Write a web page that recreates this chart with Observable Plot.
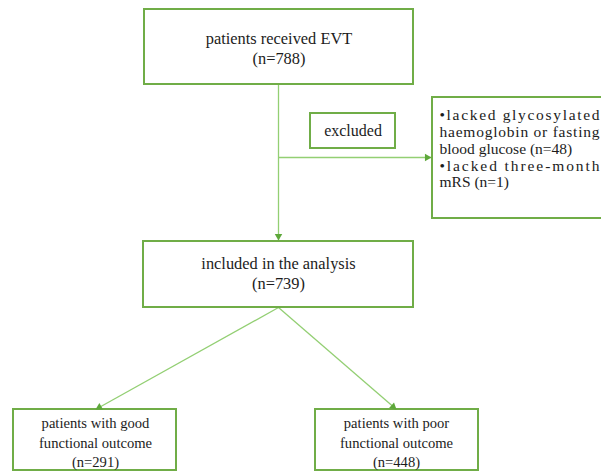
<!DOCTYPE html>
<html>
<head>
<meta charset="utf-8">
<script src="https://cdn.jsdelivr.net/npm/d3@7"></script>
<script src="https://cdn.jsdelivr.net/npm/@observablehq/plot@0.6"></script>
<style>
  html, body { margin: 0; padding: 0; background: #ffffff; }
  #chart { width: 601px; height: 471px; overflow: hidden; }
  #chart svg, #chart svg text { font-family: "Liberation Serif", "Times New Roman", serif !important; }
</style>
</head>
<body>
<div id="chart"></div>
<script>
// ---- data ----
const stageLabels = ["patients received EVT", "included in the analysis"];
const stageCounts = [788, 739];
const excludedLabel = "excluded";
const exclusionReasonLines = [
  ["lacked glycosylated", "haemoglobin or fasting", "blood glucose"],
  ["lacked three-month", "mRS"]
];
const exclusionCounts = [48, 1];
const outcomeLabels = ["good", "poor"];
const outcomeCounts = [291, 448];

// ---- layout (pixel space of the figure) ----
const stageBoxes = [
  {x1: 144, x2: 413, y1: 9, y2: 84, cy: 47},
  {x1: 143, x2: 413, y1: 241, y2: 307, cy: 272.5}
];
const outcomeBoxes = [
  {x1: 13, x2: 176, y1: 409, y2: 470, cx: 95, cy: 441},
  {x1: 315, x2: 478, y1: 409, y2: 470, cx: 396, cy: 441}
];
const excludedBox = {x1: 310, x2: 395, y1: 113, y2: 148};
const reasonsBox = {x1: 432, x2: 640, y1: 97, y2: 218};
const reasonLineTop = 115, reasonLineStep = 16.75, reasonTextX = 439, reasonJustifyWidth = 160;

const green = "#70ad47";
const lineGreen = "#93cf73";
const arrowGreen = "#5ea83b";
const ink = "#1c1c1c";
const font = "'Liberation Serif', 'Times New Roman', serif";

// texts built from data
const stageTexts = stageLabels.map((l, i) => ({
  x: (stageBoxes[i].x1 + stageBoxes[i].x2) / 2,
  y: stageBoxes[i].cy,
  text: `${l}\n(n=${stageCounts[i]})`
}));
const outcomeTexts = outcomeLabels.map((l, i) => ({
  x: outcomeBoxes[i].cx,
  y: outcomeBoxes[i].cy,
  text: `patients with ${l}\nfunctional outcome\n(n=${outcomeCounts[i]})`
}));
const reasonLines = [];
exclusionReasonLines.forEach((lines, r) => {
  lines.forEach((ln, j) => {
    let t = ln;
    if (j === 0) t = "\u2022" + t;
    const last = j === lines.length - 1;
    if (last) t = `${t} (n=${exclusionCounts[r]})`;
    reasonLines.push({text: t, justify: !last});
  });
});
reasonLines.forEach((d, k) => { d.x = reasonTextX; d.y = reasonLineTop + k * reasonLineStep; });

// connectors
const hub = {x: 278, y: 157};
const links = [
  {x1: 278, y1: stageBoxes[0].y2, x2: 278, y2: stageBoxes[1].y1 - 1, arrow: true},
  {x1: hub.x, y1: hub.y, x2: reasonsBox.x1 - 1, y2: hub.y, arrow: true},
  {x1: 278, y1: stageBoxes[1].y2, x2: outcomeBoxes[0].cx, y2: outcomeBoxes[0].y1, arrow: true},
  {x1: 278, y1: stageBoxes[1].y2, x2: outcomeBoxes[1].cx, y2: outcomeBoxes[1].y1, arrow: true}
];
const arrowR = 2.8;
const tipDist = 2 * Math.sqrt((arrowR * arrowR * Math.PI) / (Math.sqrt(3) * 3));
const arrows = links.filter(d => d.arrow).map(d => {
  const dx = d.x2 - d.x1, dy = d.y2 - d.y1, len = Math.hypot(dx, dy);
  const ux = dx / len, uy = dy / len;
  return {
    x: d.x2 - ux * tipDist,
    y: d.y2 - uy * tipDist,
    angle: Math.atan2(ux, -uy) * 180 / Math.PI
  };
});

const boxes = [...stageBoxes, ...outcomeBoxes, excludedBox, reasonsBox];

const chart = Plot.plot({
  width: 601,
  height: 471,
  margin: 0,
  style: {background: "#ffffff"},
  x: {domain: [0, 601], range: [0, 601], axis: null},
  y: {domain: [0, 471], range: [0, 471], axis: null},
  marks: [
    Plot.link(links, {x1: "x1", y1: "y1", x2: "x2", y2: "y2", stroke: lineGreen, strokeWidth: 1.3}),
    Plot.rect(boxes, {x1: "x1", x2: "x2", y1: "y1", y2: "y2", fill: "#ffffff", stroke: green, strokeWidth: 2}),
    Plot.dot(arrows, {x: "x", y: "y", symbol: "triangle", r: arrowR, fill: arrowGreen, stroke: "none", rotate: "angle"}),
    Plot.text(stageTexts, {x: "x", y: "y", text: "text", fontSize: 16.4, lineHeight: 1.22, fill: ink, fontFamily: font}),
    Plot.text([{x: (excludedBox.x1 + excludedBox.x2) / 2, y: (excludedBox.y1 + excludedBox.y2) / 2 - 0.5, text: excludedLabel}],
      {x: "x", y: "y", text: "text", fontSize: 16, fill: ink, fontFamily: font}),
    Plot.text(reasonLines, {x: "x", y: "y", text: "text", textAnchor: "start", fontSize: 15.5, fill: ink, fontFamily: font}),
    Plot.text(outcomeTexts, {x: "x", y: "y", text: "text", fontSize: 14.6, lineHeight: 1.34, fill: ink, fontFamily: font})
  ]
});

document.getElementById("chart").appendChild(chart);

// justify the non-final lines of the exclusion paragraphs
const justified = new Set(reasonLines.filter(d => d.justify).map(d => d.text));
d3.select(chart).selectAll("text").each(function () {
  if (justified.has(this.textContent)) {
    this.setAttribute("textLength", reasonJustifyWidth);
    this.setAttribute("lengthAdjust", "spacing");
  }
});
</script>
</body>
</html>
